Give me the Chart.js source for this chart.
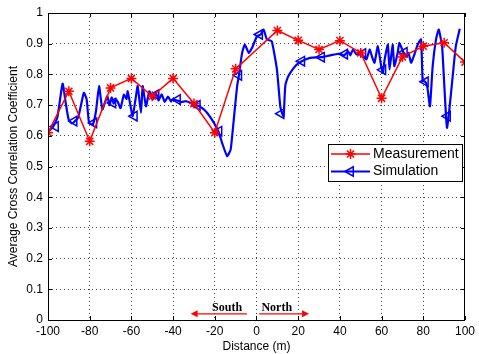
<!DOCTYPE html>
<html><head><meta charset="utf-8">
<script src="https://cdn.jsdelivr.net/npm/chart.js@4.4.0/dist/chart.umd.min.js"></script>
<style>html,body{margin:0;padding:0;background:#fff;}#wrap{width:479px;height:354px;}</style>
</head><body><div id="wrap"><canvas id="c" width="479" height="354"></canvas></div>
<script>
// ---- data ----
const seriesNames = ['Measurement', 'Simulation'];
const xTitle = 'Distance (m)';
const yTitle = 'Average Cross Correlation Coefficient';
const dirLabels = ['South', 'North'];
const xTickValues = [-100, -80, -60, -40, -20, 0, 20, 40, 60, 80, 100];
const yTickValues = [0, 0.1, 0.2, 0.3, 0.4, 0.5, 0.6, 0.7, 0.8, 0.9, 1];
const yTickLabels = ['0', '0.1', '0.2', '0.3', '0.4', '0.5', '0.6', '0.7', '0.8', '0.9', '1'];

const measX = [-100, -90, -80, -70, -60, -50, -40, -30, -20, -10, 10, 20, 30, 40, 50, 60, 70, 80, 90, 100];
const measY = [0.61, 0.745, 0.582, 0.756, 0.787, 0.729, 0.787, 0.705, 0.61, 0.818, 0.943, 0.911, 0.881, 0.91, 0.87, 0.722, 0.857, 0.892, 0.903, 0.84];

const simX = [-99.7, -97.5, -95.5, -93, -91.5, -90.1, -88.5, -87, -85.5, -82.8, -81.5, -80.3, -78.5, -77, -75.5, -73.9, -71.6, -70.5, -69.5, -68.5, -67.5, -66.5, -65.2, -63.6, -62.3, -61.8, -60.5, -59.4, -58, -57, -55.4, -54.6, -53, -51.4, -49.8, -48.2, -47, -45.5, -44, -42.5, -41, -40.4, -38, -36, -33.9, -31.6, -29, -26, -23.7, -20.4, -18, -16.5, -14.1, -12.4, -10.9, -9.3, -8.5, -6.9, -5.6, -3.7, -2.1, 0.2, 2, 3.4, 5, 7.3, 9.8, 11.4, 12.2, 13, 13.8, 15, 16.2, 18, 19.3, 21.7, 25.7, 31.2, 35.2, 40, 42, 44, 45, 46.3, 48, 50, 51, 52.7, 54.3, 55.3, 56.6, 58.2, 59.8, 60.6, 61.5, 63, 63.8, 65.3, 66.1, 67.7, 68.5, 70.2, 71.7, 72.9, 74.1, 75.5, 77.3, 78.9, 79.7, 80.5, 81.5, 82.1, 83.2, 84.5, 86.1, 87.4, 89, 90.1, 90.9, 91.4, 92.5, 94.1, 95.6, 97.5];
const simY = [0.615, 0.63, 0.66, 0.77, 0.707, 0.653, 0.64, 0.648, 0.66, 0.74, 0.72, 0.642, 0.637, 0.68, 0.762, 0.686, 0.729, 0.70, 0.725, 0.705, 0.72, 0.71, 0.69, 0.734, 0.72, 0.745, 0.70, 0.664, 0.72, 0.762, 0.675, 0.762, 0.696, 0.745, 0.718, 0.74, 0.715, 0.735, 0.71, 0.728, 0.712, 0.718, 0.715, 0.71, 0.713, 0.707, 0.70, 0.69, 0.675, 0.642, 0.61, 0.577, 0.534, 0.555, 0.653, 0.762, 0.794, 0.87, 0.897, 0.87, 0.887, 0.924, 0.93, 0.946, 0.914, 0.908, 0.816, 0.696, 0.675, 0.664, 0.762, 0.79, 0.805, 0.822, 0.832, 0.843, 0.854, 0.856, 0.862, 0.868, 0.862, 0.875, 0.862, 0.881, 0.865, 0.875, 0.862, 0.849, 0.881, 0.86, 0.838, 0.892, 0.827, 0.805, 0.85, 0.897, 0.816, 0.897, 0.827, 0.87, 0.903, 0.876, 0.859, 0.87, 0.838, 0.86, 0.897, 0.914, 0.778, 0.778, 0.77, 0.751, 0.696, 0.827, 0.914, 0.946, 0.892, 0.762, 0.664, 0.626, 0.686, 0.794, 0.892, 0.949];

const simMarkX = [-96.4, -87.5, -78, -68.9, -58.6, -48.2, -37.9, -28.4, -18, -8.5, 1.5, 11.8, 21.7, 31.2, 42.3, 51, 60.6, 70.9, 81, 91.6];
const simMarkY = [0.63, 0.648, 0.642, 0.707, 0.664, 0.734, 0.718, 0.699, 0.615, 0.797, 0.93, 0.672, 0.843, 0.856, 0.866, 0.868, 0.815, 0.872, 0.776, 0.664];

// ---- helpers ----
const toPts = (xs, ys) => xs.map((x, i) => ({x: x, y: ys[i]}));
const FONT = '"Liberation Sans", Arial, sans-serif';
const RED = '#ff0000', BLUE = '#0000ff';

function drawStar(ctx, x, y, r) {
  ctx.beginPath();
  ctx.moveTo(x - r, y); ctx.lineTo(x + r, y);
  ctx.moveTo(x, y - r); ctx.lineTo(x, y + r);
  const d = r * 0.7071;
  ctx.moveTo(x - d, y - d); ctx.lineTo(x + d, y + d);
  ctx.moveTo(x - d, y + d); ctx.lineTo(x + d, y - d);
  ctx.stroke();
}
function drawTriLeft(ctx, x, y, r) {
  ctx.beginPath();
  ctx.moveTo(x - r, y);
  ctx.lineTo(x + r * 0.5, y - r * 0.866);
  ctx.lineTo(x + r * 0.5, y + r * 0.866);
  ctx.closePath();
  ctx.stroke();
}

const framePlugin = {
  id: 'frame',
  afterDatasetsDraw(chart) {
    const {ctx, chartArea: a, scales} = chart;
    ctx.save();
    ctx.strokeStyle = '#000'; ctx.lineWidth = 1;
    const tl = 4;
    ctx.beginPath();
    xTickValues.forEach(v => {
      const px = Math.round(scales.x.getPixelForValue(v)) + 0.5;
      ctx.moveTo(px, a.bottom); ctx.lineTo(px, a.bottom - tl);
      ctx.moveTo(px, a.top); ctx.lineTo(px, a.top + tl);
    });
    yTickValues.forEach(v => {
      const py = Math.round(scales.y.getPixelForValue(v)) + 0.5;
      ctx.moveTo(a.left, py); ctx.lineTo(a.left + tl, py);
      ctx.moveTo(a.right, py); ctx.lineTo(a.right - tl, py);
    });
    ctx.stroke();
    ctx.strokeRect(Math.round(a.left) + 0.5, Math.round(a.top) + 0.5, Math.round(a.right - a.left) - 1, Math.round(a.bottom - a.top));

    const ax = v => scales.x.getPixelForValue(v);
    const ay = v => scales.y.getPixelForValue(v);
    const yArrow = ay(0.02);
    ctx.strokeStyle = RED; ctx.fillStyle = RED; ctx.lineWidth = 1.2;
    const arrow = (x0, x1) => {
      const p0 = ax(x0), p1 = ax(x1);
      const dir = Math.sign(p1 - p0);
      ctx.beginPath(); ctx.moveTo(p0, yArrow); ctx.lineTo(p1 - dir * 6, yArrow); ctx.stroke();
      ctx.beginPath(); ctx.moveTo(p1, yArrow); ctx.lineTo(p1 - dir * 7, yArrow - 3.5); ctx.lineTo(p1 - dir * 7, yArrow + 3.5); ctx.closePath(); ctx.fill();
    };
    arrow(-4.6, -31.6);
    arrow(1.3, 25.2);
    ctx.fillStyle = '#000';
    ctx.font = 'bold 12px "Liberation Serif", "Times New Roman", serif';
    ctx.textAlign = 'center'; ctx.textBaseline = 'alphabetic';
    ctx.fillText(dirLabels[0], ax(-14.1), ay(0.028));
    ctx.fillText(dirLabels[1], ax(9.7), ay(0.028));

    const L = 328.5, T = 144.5, W = 134, H = 37;
    ctx.fillStyle = '#fff'; ctx.fillRect(L, T, W, H);
    ctx.strokeStyle = '#000'; ctx.lineWidth = 1; ctx.strokeRect(L, T, W, H);
    const rows = [154, 171.5];
    ctx.lineWidth = 1.5; ctx.strokeStyle = RED;
    ctx.beginPath(); ctx.moveTo(331, rows[0]); ctx.lineTo(370, rows[0]); ctx.stroke();
    drawStar(ctx, 350.5, rows[0], 5);
    ctx.lineWidth = 2; ctx.strokeStyle = BLUE;
    ctx.beginPath(); ctx.moveTo(331, rows[1]); ctx.lineTo(370, rows[1]); ctx.stroke();
    ctx.lineWidth = 1.5;
    drawTriLeft(ctx, 350.5, rows[1], 5.5);
    ctx.fillStyle = '#000'; ctx.font = '14px ' + FONT;
    ctx.textAlign = 'left'; ctx.textBaseline = 'middle';
    ctx.fillText(seriesNames[0], 373, rows[0]);
    ctx.fillText(seriesNames[1], 373, rows[1]);
    ctx.restore();
  }
};

new Chart(document.getElementById('c'), {
  type: 'scatter',
  data: {
    datasets: [
      {
        label: seriesNames[0], data: toPts(measX, measY), showLine: true,
        borderColor: RED, borderWidth: 1.5, pointStyle: 'star', pointRadius: 5,
        pointBorderColor: RED, pointBorderWidth: 1.5, pointBackgroundColor: RED, order: 0
      },
      {
        label: seriesNames[1] + ' markers', data: toPts(simMarkX, simMarkY), showLine: false,
        pointStyle: 'triangle', rotation: -90, pointRadius: 5.5, pointBorderColor: BLUE,
        pointBorderWidth: 1.5, pointBackgroundColor: 'rgba(0,0,0,0)', order: 1
      },
      {
        label: seriesNames[1], data: toPts(simX, simY), showLine: true,
        borderColor: BLUE, borderWidth: 2.2, pointRadius: 0, tension: 0.15, order: 2
      }
    ]
  },
  options: {
    responsive: false, animation: false, devicePixelRatio: 1,
    layout: {padding: {top: 13, right: 11, left: 0, bottom: 0}},
    plugins: {legend: {display: false}, tooltip: {enabled: false}},
    scales: {
      x: {
        type: 'linear', min: -100, max: 100,
        afterBuildTicks: s => { s.ticks = xTickValues.map(v => ({value: v})); },
        afterFit: s => { s.height = 34; },
        ticks: {color: '#000', font: {family: FONT, size: 12}, padding: 4, maxRotation: 0, autoSkip: false,
                callback: v => String(v)},
        grid: {color: '#444', drawTicks: false, lineWidth: 1},
        border: {display: false, dash: [1, 3]},
        title: {display: true, text: xTitle, color: '#000', font: {family: FONT, size: 12}, padding: {top: 0, bottom: 0}}
      },
      y: {
        type: 'linear', min: 0, max: 1,
        afterBuildTicks: s => { s.ticks = yTickValues.map(v => ({value: v})); },
        afterFit: s => { s.width = 48; },
        ticks: {color: '#000', font: {family: FONT, size: 12}, padding: 5, autoSkip: false,
                callback: (v, i) => yTickLabels[i]},
        grid: {color: '#444', drawTicks: false, lineWidth: 1},
        border: {display: false, dash: [1, 3]},
        title: {display: true, text: yTitle, color: '#000', font: {family: FONT, size: 12}, padding: {top: 6, bottom: 0}}
      }
    }
  },
  plugins: [framePlugin]
});
</script>
</body></html>
